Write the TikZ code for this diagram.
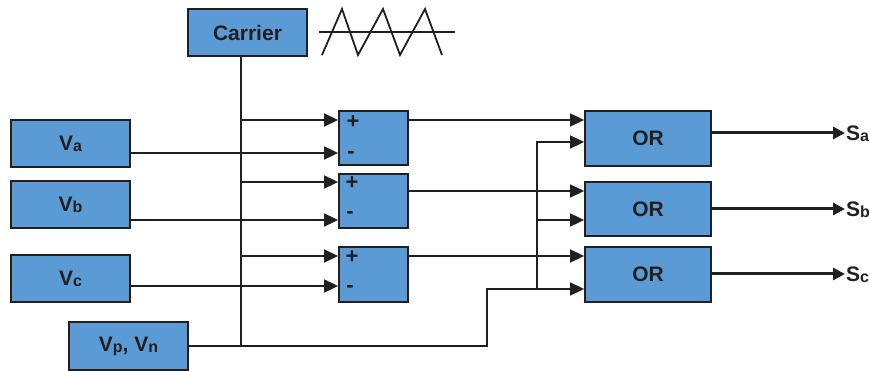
\documentclass[tikz,border=0pt]{standalone}
\usepackage{fontspec}
\setmainfont{Liberation Sans}
\usetikzlibrary{arrows.meta,calc}
\definecolor{boxblue}{HTML}{5B9BD5}
\definecolor{ink}{HTML}{231F20}
\newcommand{\sbs}[1]{\raisebox{-1pt}{\fontsize{16}{16}\selectfont #1}}
\begin{document}
\begin{tikzpicture}[x=1pt,y=-1pt,
  box/.style={draw=ink,fill=boxblue,line width=1.8pt,inner sep=0pt,
    font=\fontsize{21}{21}\selectfont\bfseries,text=ink},
  wire/.style={draw=ink,line width=1.8pt},
  arr/.style={wire,-{Triangle[length=14pt,width=13pt]}},
  outarr/.style={draw=ink,line width=3pt,-{Triangle[length=12pt,width=12pt]}},
  sign/.style={font=\fontsize{22}{22}\selectfont\bfseries,text=ink,inner sep=0pt},
  lab/.style={font=\fontsize{21}{21}\selectfont\bfseries,text=ink,inner sep=0pt,anchor=west}]
\useasboundingbox (0,0) rectangle (870,371);
% boxes
\node[box,minimum width=119pt,minimum height=47pt] (carrier) at (247.5,32.5) {Carrier};
\node[box,minimum width=119pt,minimum height=47pt] (va) at (70.5,143.5) {V\sbs{a}};
\node[box,minimum width=119pt,minimum height=47pt] (vb) at (70.5,204.5) {V\sbs{b}};
\node[box,minimum width=119pt,minimum height=47pt] (vc) at (70.5,278.5) {V\sbs{c}};
\node[box,minimum width=119pt,minimum height=48pt] (vpn) at (128.5,346) {V\sbs{p}, V\sbs{n}};
\node[box,minimum width=69pt,minimum height=54pt] (c1) at (373.5,138) {};
\node[box,minimum width=69pt,minimum height=54pt] (c2) at (373.5,201) {};
\node[box,minimum width=69pt,minimum height=55pt] (c3) at (373.5,274.5) {};
\node[box,minimum width=126pt,minimum height=55pt] (or1) at (648,138.5) {OR};
\node[box,minimum width=126pt,minimum height=54pt] (or2) at (648,209) {OR};
\node[box,minimum width=126pt,minimum height=55pt] (or3) at (648,274.5) {OR};
% signs
\node[sign] (p1) at (353,122) {+};
\node[sign] (m1) at (351,155) {-};
\node[sign] (p2) at (352,183) {+};
\node[sign] (m2) at (350,215) {-};
\node[sign] (p3) at (352,257) {+};
\node[sign] (m3) at (350,289) {-};
% carrier waveform
\draw[wire] (319,32) -- (455,32);
\draw[wire,line join=miter] (322,55) -- (342,9) -- (358,55) -- (383,9) -- (400,55) -- (425,9) -- (442,55);
% carrier distribution
\coordinate (jv) at (241,346);
\draw[wire] (carrier.south -| jv) -- (jv);
\draw[arr] (jv |- {(0,120)}) -- (c1.west |- {(0,120)});
\draw[arr] (jv |- {(0,182)}) -- (c2.west |- {(0,182)});
\draw[arr] (jv |- {(0,256)}) -- (c3.west |- {(0,256)});
% references
\draw[arr] (va.east |- {(0,153)}) -- (c1.west |- {(0,153)});
\draw[arr] (vb.east |- {(0,220)}) -- (c2.west |- {(0,220)});
\draw[arr] (vc.east |- {(0,286)}) -- (c3.west |- {(0,286)});
% comparator outputs
\draw[arr] (c1.east |- {(0,120)}) -- (or1.west |- {(0,120)});
\draw[arr] (c2.east |- {(0,191)}) -- (or2.west |- {(0,191)});
\draw[arr] (c3.east |- {(0,256)}) -- (or3.west |- {(0,256)});
% Vp Vn path
\coordinate (k1) at (487,346);
\coordinate (k2) at (487,289);
\coordinate (k3) at (537,289);
\draw[arr] (vpn.east |- k1) -- (k1) -- (k2) -- (or3.west |- k2);
\draw[arr] (k3) -- (k3 |- {(0,142)}) -- (or1.west |- {(0,142)});
\draw[arr] (k3 |- {(0,220)}) -- (or2.west |- {(0,220)});
% outputs
\coordinate (s1) at (845,133);
\coordinate (s2) at (845,209);
\coordinate (s3) at (845,274);
\draw[outarr] (or1.east |- s1) -- (s1);
\draw[outarr] (or2.east |- s2) -- (s2);
\draw[outarr] (or3.east |- s3) -- (s3);
\node[lab] (sa) at (846,134) {S\sbs{a}};
\node[lab] (sb) at (846,210) {S\sbs{b}};
\node[lab] (sc) at (846,275) {S\sbs{c}};
\end{tikzpicture}
\end{document}
